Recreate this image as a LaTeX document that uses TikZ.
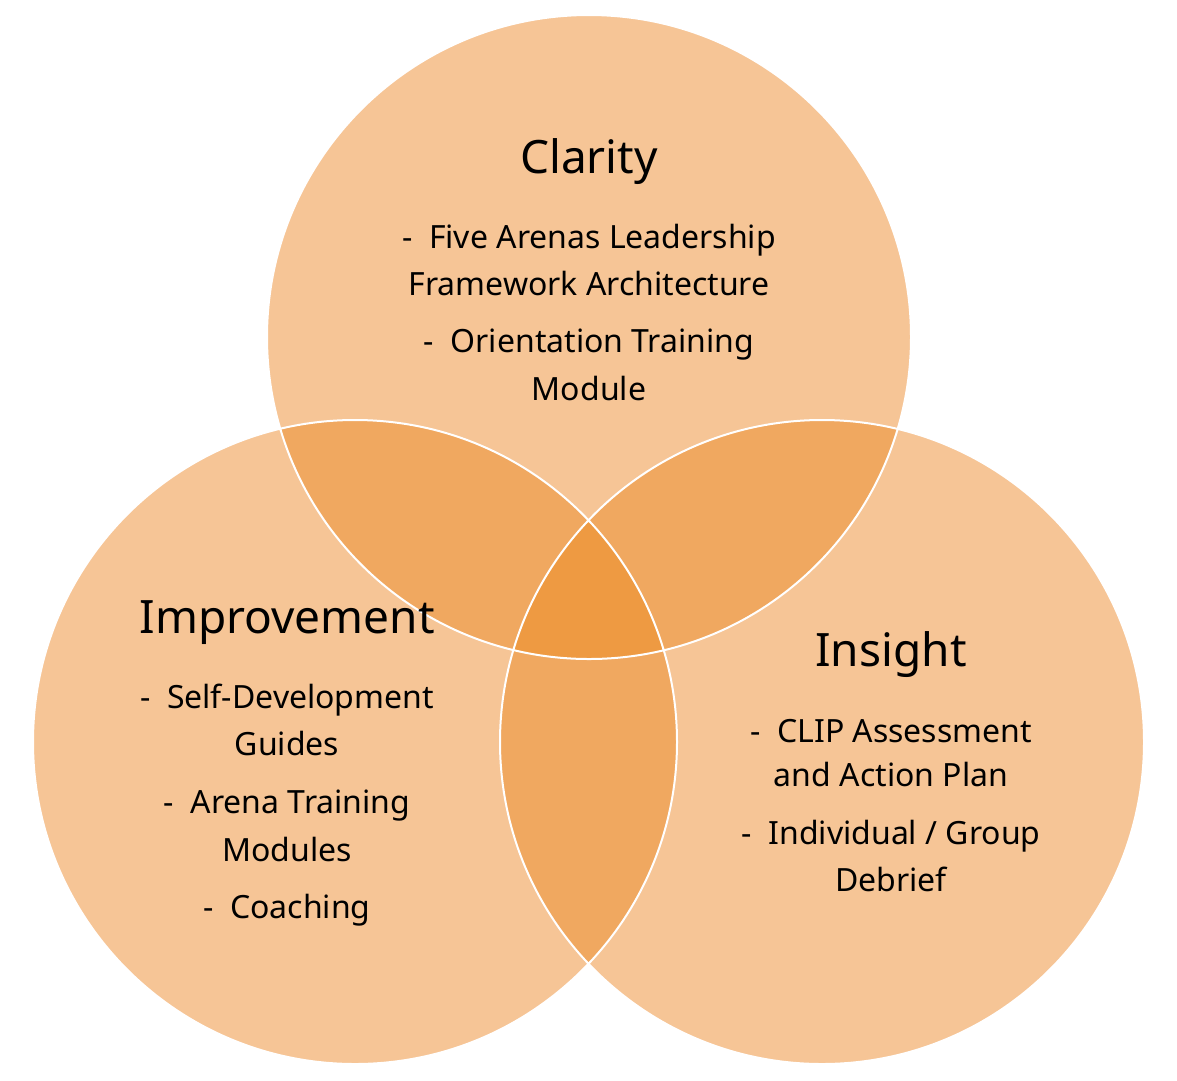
\documentclass[tikz,border=0pt]{standalone}
\usepackage{fontspec}
\setmainfont{Noto Sans}
\begin{document}
\begin{tikzpicture}[x=1pt,y=-1pt,
  ttl/.style={font=\fontsize{46}{50}\selectfont\bfseries,anchor=center},
  txt/.style={font=\fontsize{32}{36}\selectfont,anchor=center}]
\useasboundingbox (0,0) rectangle (1177,1080);
\definecolor{base}{HTML}{F6C596}
\definecolor{two}{HTML}{F0A860}
\definecolor{three}{HTML}{EE9A42}
\def\R{322}
\coordinate (T) at (589,337);
\coordinate (L) at (355,742);
\coordinate (Rc) at (822,742);
\fill[base] (T) circle (\R); \fill[base] (L) circle (\R); \fill[base] (Rc) circle (\R);
\begin{scope}\clip (T) circle (\R); \fill[two] (L) circle (\R); \fill[two] (Rc) circle (\R);\end{scope}
\begin{scope}\clip (L) circle (\R); \fill[two] (Rc) circle (\R);\end{scope}
\begin{scope}\clip (T) circle (\R); \clip (L) circle (\R); \fill[three] (Rc) circle (\R);\end{scope}
\draw[white,line width=2] (T) circle (\R) (L) circle (\R) (Rc) circle (\R);
\node[ttl] (c0) at (589,162) {Clarity};
\node[txt] (c1) at (589,240) {-\ \ Five Arenas Leadership};
\node[txt] (c2) at (589,283) {Framework Architecture};
\node[txt] (c3) at (589,345) {-\ \ Orientation Training};
\node[txt] (c4) at (589,388) {Module};
\node[ttl] (i0) at (287,623) {Improvement};
\node[txt] (i1) at (287,700) {-\ \ Self-Development};
\node[txt] (i2) at (287,743) {Guides};
\node[txt] (i3) at (287,806) {-\ \ Arena Training};
\node[txt] (i4) at (287,849) {Modules};
\node[txt] (i5) at (287,910) {-\ \ Coaching};
\node[ttl] (s0) at (891,655) {Insight};
\node[txt] (s1) at (891,731) {-\ \ CLIP Assessment};
\node[txt] (s2) at (891,774) {and Action Plan};
\node[txt] (s3) at (891,836) {-\ \ Individual / Group};
\node[txt] (s4) at (891,879) {Debrief};
\end{tikzpicture}
\end{document}
